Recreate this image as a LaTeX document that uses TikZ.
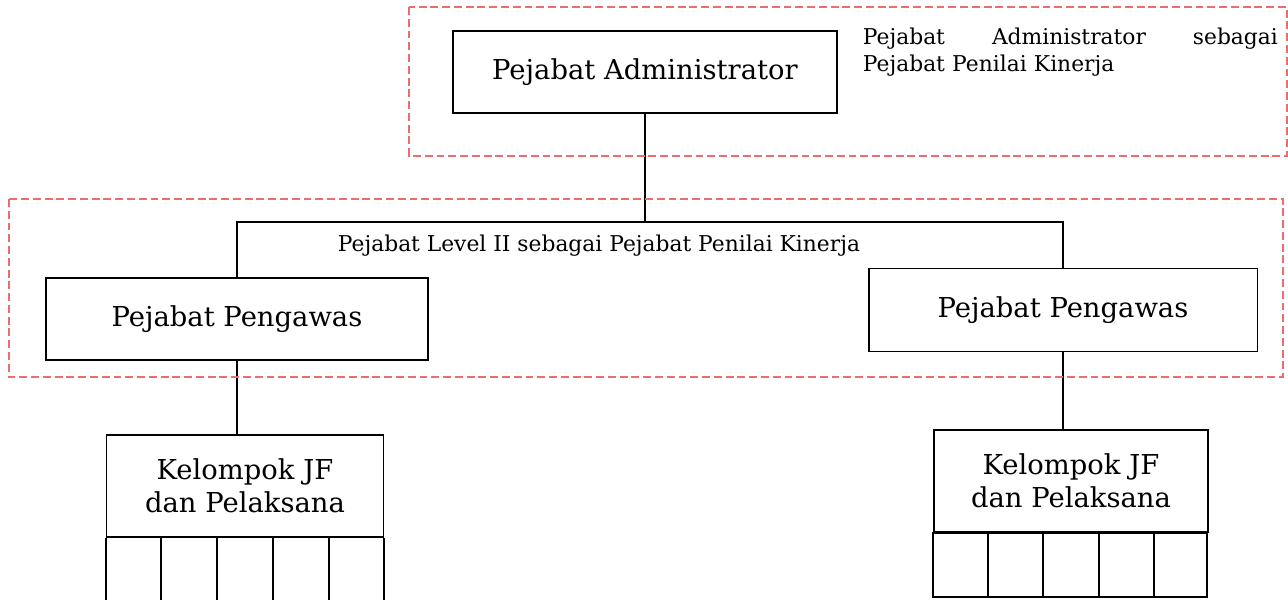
\documentclass[tikz,border=0pt]{standalone}
\usepackage{fontspec}
\setmainfont{DejaVu Serif}
\usetikzlibrary{calc}
\usetikzlibrary{positioning}
\definecolor{penilaired}{RGB}{240,108,108}

\begin{document}
\begin{tikzpicture}[x=0.02cm,y=-0.02cm,
  every node/.style={draw,solid,color=black,line width=1.1pt,align=center,font=\fontsize{15.6}{18.5}\selectfont},
  note/.style={draw=none,inner sep=0pt,font=\fontsize{12.4}{15.5}\selectfont},
  penilaibox/.style={draw=penilaired,line width=1pt,dash pattern=on 4.5pt off 2.2pt}]
\useasboundingbox (0,0) rectangle (1288,599);

\node[minimum width=7.68cm,minimum height=1.64cm](adm) at (645,72) {Pejabat Administrator};
\node[minimum width=7.64cm,minimum height=1.64cm](pengL) at (237,319) {Pejabat Pengawas};
\node[minimum width=7.78cm,minimum height=1.66cm](pengR) at (1063,310) {Pejabat Pengawas};
\node[minimum width=5.54cm,minimum height=2.04cm](kelL) at (245,486) {Kelompok JF\\dan Pelaksana};
\node[minimum width=5.48cm,minimum height=2.04cm](kelR) at (1071,481) {Kelompok JF\\dan Pelaksana};

\node[note,anchor=base west,text width=8.3cm,align=left](noteAdm) at (862,44) {Pejabat\hfill Administrator\hfill sebagai\\Pejabat Penilai Kinerja};
\node[note,anchor=base west](noteLvl) at (337,251) {Pejabat Level II sebagai Pejabat Penilai Kinerja};

\coordinate (busY) at (0,222);
\draw[line width=1.1pt] (adm.south)--(adm.south |- busY);
\draw[line width=1.1pt] (pengL.north) |- (pengR.north |- busY)--(pengR.north);
\draw[line width=1.1pt] (pengL.south)--(pengL.south |- kelL.north);
\draw[line width=1.1pt] (pengR.south)--(pengR.south |- kelR.north);

\foreach \i in {0,...,5}
  \draw[line width=1.1pt] ($(kelL.south west)!\i/5!(kelL.south east)$)--++(0,62);
\draw[line width=1.1pt] (kelR.south west) rectangle ++(274,64);
\foreach \i in {1,...,4}
  \draw[line width=1.1pt] ($(kelR.south west)!\i/5!(kelR.south east)$)--++(0,64);

\draw[penilaibox] (409,7) rectangle (1287,156);
\draw[penilaibox] (9,199) rectangle (1283,377);
\end{tikzpicture}
\end{document}
